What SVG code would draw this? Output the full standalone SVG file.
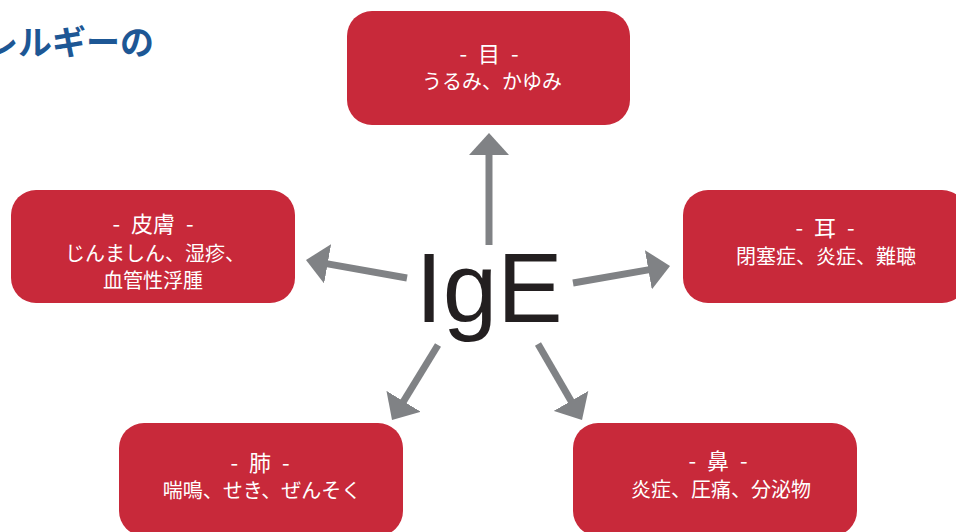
<svg xmlns="http://www.w3.org/2000/svg" width="956" height="532" viewBox="0 0 956 532">
<style>
.box{fill:#c8293a}
.t{font-family:"Noto Sans CJK JP","Noto Sans",sans-serif;fill:#ffffff;text-anchor:middle}
.h{font-size:22px;word-spacing:6px}
.b{font-size:20px}
.arr{stroke:#808285;stroke-width:7;fill:none;marker-end:url(#ah)}
</style>
<defs>
<marker id="ah" markerUnits="userSpaceOnUse" viewBox="0 0 22 40" markerWidth="22" markerHeight="40" refX="10" refY="20" orient="auto">
<path d="M0,0 L22,20 L0,40 Z" fill="#808285"/>
</marker>
</defs>
<rect width="956" height="532" fill="#ffffff"/>
<text x="154" y="55" text-anchor="end" font-family="'Noto Sans CJK JP',sans-serif" font-weight="bold" font-size="34" fill="#1d5795">アレルギーの</text>
<g id="connectors">
<line class="arr" x1="489" y1="245" x2="489" y2="145"/>
<line class="arr" x1="407" y1="278" x2="317.8" y2="262.1"/>
<line class="arr" x1="573" y1="283" x2="658.2" y2="268.1"/>
<line class="arr" x1="438" y1="345" x2="398.3" y2="409.8"/>
<line class="arr" x1="538" y1="344" x2="576" y2="409.6"/>
</g>
<g id="center">
<text x="489" y="322" text-anchor="middle" font-family="'Liberation Sans',Arial,sans-serif" font-size="98" fill="#231f20">IgE</text>
</g>
<g id="eye">
<rect class="box" x="347" y="11" width="283" height="114" rx="25"/>
<text class="t h" x="489" y="62">- 目 -</text>
<text class="t b" x="492" y="89">うるみ、かゆみ</text>
</g>
<g id="skin">
<rect class="box" x="11" y="190" width="284" height="113" rx="25"/>
<text class="t h" x="153" y="232">- 皮膚 -</text>
<text class="t b" x="155" y="261">じんましん、湿疹、</text>
<text class="t b" x="153" y="288">血管性浮腫</text>
</g>
<g id="ear">
<rect class="box" x="683" y="190" width="284" height="113" rx="25"/>
<text class="t h" x="825" y="236">- 耳 -</text>
<text class="t b" x="826" y="264">閉塞症、炎症、難聴</text>
</g>
<g id="lung">
<rect class="box" x="119" y="423" width="284" height="113" rx="25"/>
<text class="t h" x="260" y="471">- 肺 -</text>
<text class="t b" x="262" y="498">喘鳴、せき、ぜんそく</text>
</g>
<g id="nose">
<rect class="box" x="573" y="423" width="284" height="113" rx="25"/>
<text class="t h" x="718" y="469">- 鼻 -</text>
<text class="t b" x="721" y="497">炎症、圧痛、分泌物</text>
</g>
</svg>
